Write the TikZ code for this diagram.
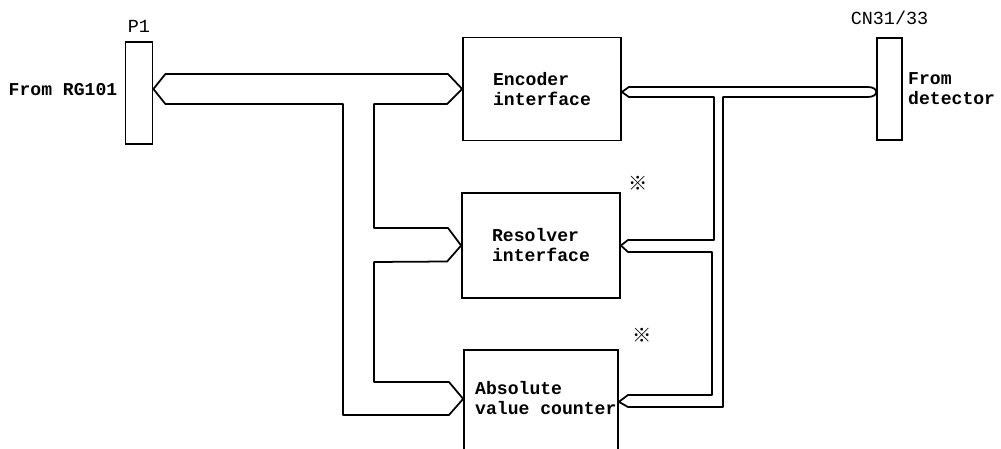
\documentclass[tikz,border=0pt]{standalone}
\usepackage{fontspec}
\setmonofont{Liberation Mono}
\newfontfamily\cjk{Noto Sans CJK JP}
\usepackage{tikz}
\usetikzlibrary{positioning}

\begin{document}
\begin{tikzpicture}[x=0.02cm,y=-0.02cm,
	blk/.style={draw,line width=1pt,minimum width=3.16cm,inner sep=0pt},
	conn/.style={draw,line width=1pt,minimum width=0.54cm,minimum height=2.04cm,inner sep=0pt},
	txt/.style={font=\ttfamily\bfseries\fontsize{10.3}{11.4}\selectfont,align=left},
	lbl/.style={font=\ttfamily\fontsize{10.5}{12}\selectfont,inner sep=0pt},
	refmark/.style={font=\cjk\bfseries\fontsize{11}{11}\selectfont,inner sep=0pt},
	bus/.style={line width=1pt,line join=round}]
	
	\useasboundingbox (0,0) rectangle (1001,449);
	\clip (0,0) rectangle (1001,449);
	
	% connectors
	\node[conn] (p1) at (139,93) {};
	\node[lbl,above=0.16cm of p1] (p1lbl) {P1};
	\node[txt,inner sep=0pt,left=0.14cm of p1,yshift=0.06cm] (rglbl) {From RG101};
	
	\node[conn,minimum width=0.5cm] (cn) at (889.5,89) {};
	\node[lbl,above=0.24cm of cn] (cnlbl) {CN31/33};
	\node[txt,inner sep=0pt,right=0.1cm of cn] (detlbl) {From\\detector};
	
	% blocks
	\node[blk,txt,minimum height=2.06cm] (enc) at (542,89) {Encoder\\interface};
	\node[blk,txt,minimum height=2.1cm] (res) at (541,245.5) {Resolver\\interface};
	\node[blk,minimum width=3.08cm,minimum height=2.4cm,anchor=north] (abs) at (541,349) {};
	\node[txt,anchor=west] (abslbl) at (469,398) {Absolute\\value counter};
	
	\node[refmark] (resmk) at (638,183) {※};
	\node[refmark] (absmk) at (642,335) {※};
	
	\coordinate (p1out) at ([yshift=0.08cm]p1.east);
	\coordinate (absin) at ([yshift=0.22cm]abs.west);
	\coordinate (absout) at ([yshift=0.16cm]abs.east);
	\coordinate (encout) at ([yshift=-0.06cm]enc.east);
	
	% bus from P1
	\draw[bus] (p1out) -- ++(12,-15) -- (448,74) -- (enc.west);
	\draw[bus] (p1out) -- ++(12,15) -- (343,104) -- (343,415) -- (449,415) -- (absin);
	\draw[bus] (enc.west) -- ++(-15,15) -- (374,104) -- (374,228) -- (448,228) -- (res.west);
	\draw[bus] (res.west) -- ++(-14,16) -- (374,262) -- (374,382) -- (449,382) -- (absin);
	
	% bus from detector
	\draw[bus] (encout) -- ++(7,-5) -- (868,87) .. controls (879,87) and (879,97) .. (868,97)
		-- (723,97) -- (723,407) -- (628,407) -- (absout);
	\draw[bus] (encout) -- ++(7,5) -- (714,97) -- (714,240) -- (628,240) -- (res.east);
	\draw[bus] (res.east) -- (628,252) -- (712,252) -- (712,395) -- (628,395) -- (absout);
	
\end{tikzpicture}
\end{document}
